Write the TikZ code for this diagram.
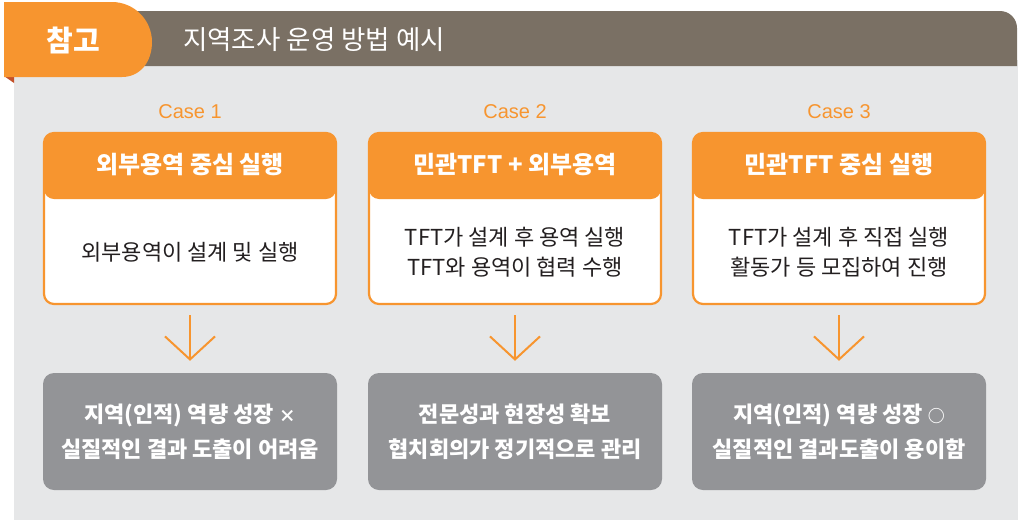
\documentclass[tikz,border=0pt]{standalone}
\usepackage{fontspec}
\setmainfont{Noto Sans CJK KR}
\newfontfamily\latinsans{Liberation Sans}
\usetikzlibrary{arrows.meta}
\definecolor{orng}{HTML}{F7952F}
\definecolor{orngdk}{HTML}{C4512A}
\definecolor{bar}{HTML}{7A7064}
\definecolor{panel}{HTML}{E6E7E8}
\definecolor{resgray}{HTML}{939497}
\definecolor{txt}{HTML}{231F20}
\tikzset{
  caselbl/.style={text=orng, font=\latinsans\fontsize{20}{22}\selectfont, inner sep=0pt},
  casebox/.style={draw=orng, line width=2.2pt, fill=white, rounded corners=10pt,
    minimum width=292pt, minimum height=171pt, inner sep=0pt,
    path picture={\fill[orng] (path picture bounding box.north west) rectangle ([yshift=-66pt]path picture bounding box.north east);}},
  headtxt/.style={text=white, font=\fontsize{24}{28}\selectfont\bfseries, inner sep=0pt},
  bodytxt/.style={text=txt, font=\fontsize{22}{30}\selectfont, align=center, inner sep=0pt},
  resbox/.style={fill=resgray, rounded corners=11pt, minimum width=294pt, minimum height=117pt,
    text=white, font=\fontsize{22}{35}\selectfont\bfseries, align=center, inner sep=0pt},
  flow/.style={draw=orng, line width=2pt, -{Straight Barb[length=23pt,width=50pt,line width=2pt]}},
}
\newcommand\smallsym[1]{{\fontsize{17}{20}\selectfont #1}}
\begin{document}
\begin{tikzpicture}[x=1pt,y=-1pt]
\useasboundingbox (0,0) rectangle (1018,520);
% background panel
\fill[panel] (14,60) rectangle (1018,520);
% title bar
\fill[bar] (120,11) -- (1000,11) .. controls (1009.4,11) and (1017,18.6) .. (1017,28) -- (1017,66) -- (120,66) -- cycle;
% fold triangle
\fill[orngdk] (4,76) -- (14,76) -- (14,83) -- cycle;
% orange tab
\fill[orng] (4,2) -- (112,2) .. controls (134,2) and (152,20) .. (152,42) .. controls (152,62) and (140,77) .. (122,77) -- (4,77) -- cycle;
\node[text=white, font=\fontsize{29}{32}\selectfont\bfseries, inner sep=0pt] (tab) at (73,40) {참고};
\node[text=white, font=\fontsize{26.5}{30}\selectfont, anchor=west, inner sep=0pt] (title) at (183,40) {지역조사 운영 방법 예시};

% Case 1
\node[caselbl] (c1) at (190,112) {Case 1};
\node[casebox] (box1) at (190,218.5) {};
\node[headtxt] (h1) at (190,165) {외부용역 중심 실행};
\node[bodytxt] (b1) at (190,252) {외부용역이 설계 및 실행};
\node[resbox] (r1) at (190,431.5) {지역(인적) 역량 성장 \smallsym{×}\\실질적인 결과 도출이 어려움};
\draw[flow] ([yshift=-10pt]box1.south) -- ([yshift=12pt]r1.north);

% Case 2
\node[caselbl] (c2) at (515,112) {Case 2};
\node[casebox] (box2) at (515,218.5) {};
\node[headtxt] (h2) at (515,165) {민관TFT + 외부용역};
\node[bodytxt] (b2) at (515,252) {TFT가 설계 후 용역 실행\\TFT와 용역이 협력 수행};
\node[resbox] (r2) at (515,431.5) {전문성과 현장성 확보\\협치회의가 정기적으로 관리};
\draw[flow] ([yshift=-10pt]box2.south) -- ([yshift=12pt]r2.north);

% Case 3
\node[caselbl] (c3) at (839,112) {Case 3};
\node[casebox] (box3) at (839,218.5) {};
\node[headtxt] (h3) at (839,165) {민관TFT 중심 실행};
\node[bodytxt] (b3) at (839,252) {TFT가 설계 후 직접 실행\\활동가 등 모집하여 진행};
\node[resbox] (r3) at (839,431.5) {지역(인적) 역량 성장 \smallsym{○}\\실질적인 결과도출이 용이함};
\draw[flow] ([yshift=-10pt]box3.south) -- ([yshift=12pt]r3.north);
\end{tikzpicture}
\end{document}
